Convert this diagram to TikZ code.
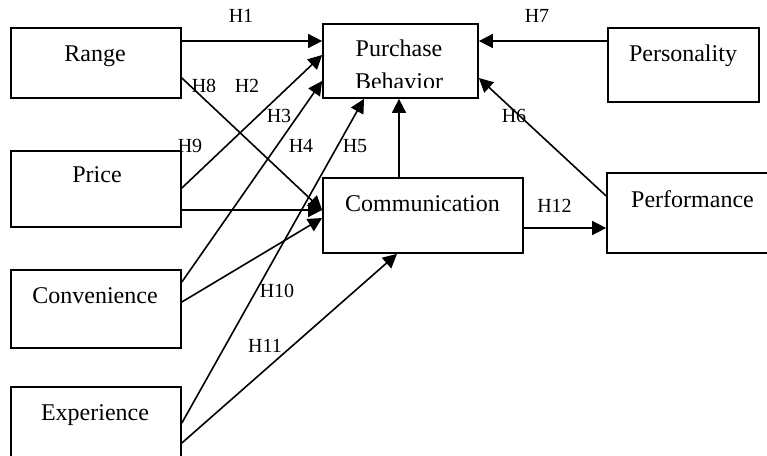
\documentclass[tikz,border=0pt]{standalone}
\usepackage{fontspec}
\setmainfont{Liberation Serif}
\usetikzlibrary{arrows.meta}
\tikzset{
  box/.style={draw, line width=1.3pt, inner sep=0pt, fill=none},
  boxtext/.style={anchor=base, inner sep=0pt, font=\fontsize{18}{20}\selectfont},
  hlab/.style={anchor=base, inner sep=0pt, font=\fontsize{15}{17}\selectfont},
  conn/.style={line width=1.2pt, -{Triangle[length=10.5pt,width=10.5pt]}},
}
\begin{document}
\begin{tikzpicture}[x=0.75pt,y=-0.75pt]
\clip (0,0) rectangle (767,456);
\fill[white] (0,0) rectangle (767,456);
% boxes
\node[box, minimum width={170*0.75pt}, minimum height={70*0.75pt}] (rg) at (96,63) {};
\node[box, minimum width={170*0.75pt}, minimum height={76*0.75pt}] (pr) at (96,189) {};
\node[box, minimum width={170*0.75pt}, minimum height={78*0.75pt}] (cv) at (96,309) {};
\node[box, minimum width={170*0.75pt}, minimum height={80*0.75pt}] (ex) at (96,427) {};
\node[box, minimum width={155*0.75pt}, minimum height={74*0.75pt}] (pb) at (400.5,61) {};
\node[box, minimum width={151*0.75pt}, minimum height={74*0.75pt}] (ps) at (683.5,65) {};
\node[box, minimum width={200*0.75pt}, minimum height={75*0.75pt}] (cm) at (423,215.5) {};
\node[box, minimum width={180*0.75pt}, minimum height={80*0.75pt}] (pf) at (697,213) {};
% box texts
\node[boxtext] (trg) at (95,62) {Range};
\node[boxtext] (tpr) at (97,183) {Price};
\node[boxtext] (tcv) at (95,303) {Convenience};
\node[boxtext] (tex) at (95,420) {Experience};
\node[boxtext] (tpb1) at (399,57) {Purchase};
\begin{scope}
\clip (324,60) rectangle (477,88);
\node[boxtext] (tpb2) at (399,89.5) {Behavior};
\end{scope}
\node[boxtext] (tps) at (683,62) {Personality};
\node[boxtext] (tcm) at (422.5,211) {Communication};
\node[boxtext] (tpf) at (692.5,207) {Performance};
% connectors
\draw[conn] (rg.east |- 0,41) -- (pb.west |- 0,41);
\draw[conn] (pr.east |- 0,188) -- (pb.west |- 0,55);
\draw[conn] (cv.east |- 0,282) -- (pb.west |- 0,81);
\draw[conn] (ex.east |- 0,423) -- (pb.south -| 364,0);
\draw[conn] (cm.north -| 399,0) -- (pb.south -| 399,0);
\draw[conn] (pf.west |- 0,196) -- (pb.east |- 0,78);
\draw[conn] (ps.west |- 0,41) -- (pb.east |- 0,41);
\draw[conn] (cm.east |- 0,228) -- (pf.west |- 0,228);
\draw[conn] (rg.east |- 0,78) -- (cm.west |- 0,210);
\draw[conn] (pr.east |- 0,210) -- (cm.west |- 0,210);
\draw[conn] (cv.east |- 0,302) -- (cm.west |- 0,218);
\draw[conn] (ex.east |- 0,443) -- (cm.south -| 397,0);
% labels
\node[hlab] (h1) at (241,23) {H1};
\node[hlab] (h7) at (537,23) {H7};
\node[hlab] (h8) at (204,93) {H8};
\node[hlab] (h2) at (247,93) {H2};
\node[hlab] (h3) at (279,123) {H3};
\node[hlab] (h9) at (190,152) {H9};
\node[hlab] (h4) at (301,152) {H4};
\node[hlab] (h5) at (355,152) {H5};
\node[hlab] (h6) at (514,123) {H6};
\node[hlab] (h12) at (554.5,212) {H12};
\node[hlab] (h10) at (277,297) {H10};
\node[hlab] (h11) at (265,352) {H11};
\end{tikzpicture}
\end{document}
